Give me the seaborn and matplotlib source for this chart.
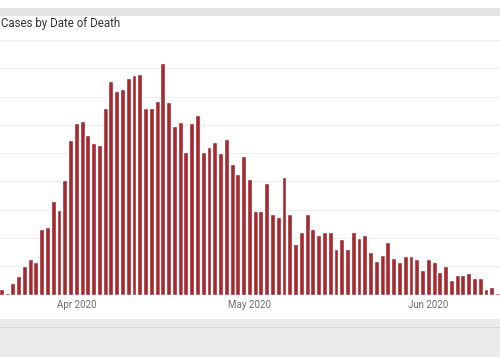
import pandas as pd
import numpy as np
import matplotlib.pyplot as plt
import seaborn as sns
from matplotlib.patches import Rectangle

# Deaths by date of death (one bar per day)
datas = pd.date_range('2020-03-19', periods=87, freq='D')
obitos = [4, 1, 8, 13, 20, 25, 23, 46, 48, 66, 60, 81, 109, 121, 123, 113, 107, 106,
          132, 151, 144, 145, 153, 155, 156, 132, 132, 137, 164, 136, 119, 122, 101,
          121, 127, 101, 104, 108, 100, 110, 92, 85, 98, 82, 59, 59, 79, 57, 55, 83,
          57, 36, 44, 57, 46, 42, 44, 44, 32, 39, 32, 44, 40, 42, 30, 24, 28, 37, 26,
          23, 27, 27, 25, 17, 25, 23, 16, 20, 10, 14, 14, 15, 12, 12, 4, 5, 1]
rotulos_x = ['Apr 2020', 'May 2020', 'Jun 2020']
datas_ticks = ['2020-04-01', '2020-05-01', '2020-06-01']

df = pd.DataFrame({'data': datas.strftime('%Y-%m-%d'), 'obitos': obitos})

sns.set_style('white')
plt.rcParams['font.family'] = ['Roboto', 'DejaVu Sans']

fig = plt.figure(figsize=(5, 3.57), dpi=100)

# faixas cinzas do painel (topo e rodapé)
fig.patches.append(Rectangle((0, 1 - 15.5 / 357), 1, 7.5 / 357, transform=fig.transFigure,
                             facecolor='#e4e4e4', edgecolor='none', zorder=0))
fig.patches.append(Rectangle((0, 0), 1, 38 / 357, transform=fig.transFigure,
                             facecolor='#ebebeb', edgecolor='none', zorder=0))
fig.patches.append(Rectangle((0, 29 / 357), 1, 1.2 / 357, transform=fig.transFigure,
                             facecolor='#d6d6d6', edgecolor='none', zorder=0))

ax = fig.add_axes([0, 62.5 / 357, 1, 254.5 / 357])
sns.barplot(data=df, x='data', y='obitos', color='#a52a30', saturation=1,
            width=0.85, ax=ax)

ax.set_xlim(-0.225, 86.43)
ax.set_ylim(0, 180)
ax.set_yticks(np.arange(20, 181, 20))
ax.yaxis.grid(True, color='#eeeeee', linewidth=0.9)
ax.set_axisbelow(True)
ax.set_yticklabels([])
ax.tick_params(axis='y', length=0)

posicoes = [list(df['data']).index(d) for d in datas_ticks]
ax.set_xticks(posicoes)
ax.set_xticklabels(rotulos_x, fontsize=7, color='#6e6e6e')
ax.tick_params(axis='x', length=0, pad=4)
ax.set_xlabel('')
ax.set_ylabel('')
sns.despine(ax=ax, left=True, bottom=True)

fig.text(0.002, 1 - 24 / 357, 'Cases by Date of Death', fontsize=8.3, color='#333333',
         ha='left', va='center')

fig.savefig('out.png', dpi=100)
